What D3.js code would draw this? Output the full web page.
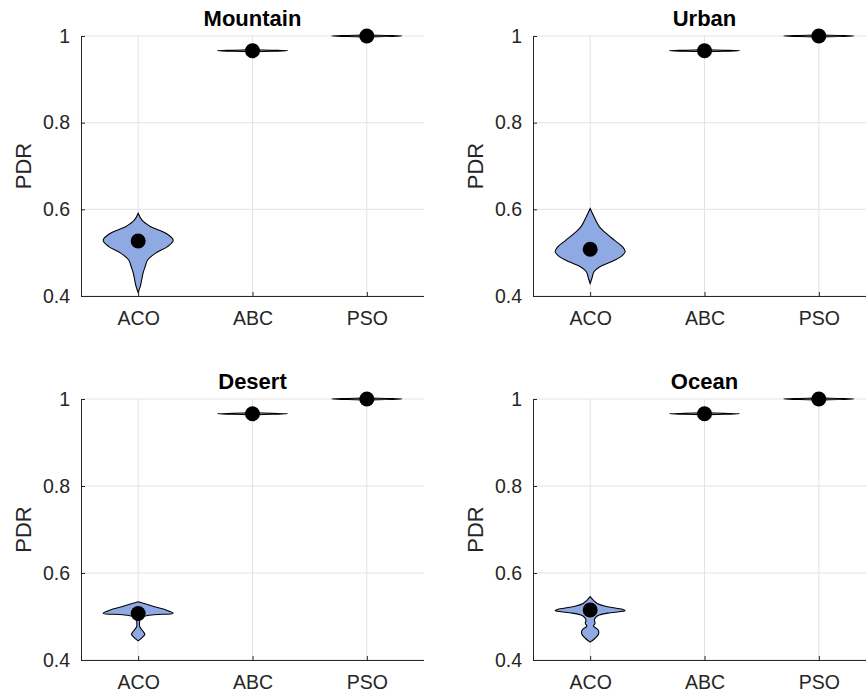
<!DOCTYPE html>
<html>
<head>
<meta charset="utf-8">
<script src="https://cdn.jsdelivr.net/npm/d3@7"></script>
<style>
  html, body { margin: 0; padding: 0; background: #ffffff; }
  svg { display: block; font-family: "Liberation Sans", Arial, Helvetica, sans-serif; }
</style>
</head>
<body>
<svg id="chart" width="866" height="695"></svg>
<script>
// ---------------- DATA ----------------
const panelTitles = ["Mountain", "Urban", "Desert", "Ocean"];
const algorithms = ["ACO", "ABC", "PSO"];
const yTickValues = [0.4, 0.6, 0.8, 1];
const yLabel = "PDR";

// median markers per panel, order: ACO, ABC, PSO
const mediansMountain = [0.527, 0.966, 1.0];
const mediansUrban    = [0.508, 0.966, 1.0];
const mediansDesert   = [0.507, 0.966, 1.0];
const mediansOcean    = [0.515, 0.966, 1.0];

// ACO violin outlines: [PDR value, relative half-width]
const acoMountain = [[0.591,0],[0.575,0.11],[0.56,0.36],[0.545,0.79],[0.529,1.0],[0.514,0.84],[0.499,0.5],
  [0.483,0.27],[0.468,0.2],[0.453,0.14],[0.437,0.1],[0.422,0.06],[0.408,0]];
const acoUrban = [[0.602,0],[0.583,0.11],[0.56,0.26],[0.545,0.45],[0.529,0.69],[0.514,0.92],[0.502,1.0],
  [0.491,0.88],[0.479,0.6],[0.468,0.29],[0.456,0.11],[0.441,0.05],[0.429,0]];
const acoDesert = [[0.534,0],[0.5225,0.47],[0.515,0.8],[0.5074,1.0],[0.504,0.45],[0.50,0.15],[0.495,0.05],
  [0.488,0.04],[0.478,0.04],[0.473,0.07],[0.466,0.14],[0.459,0.19],[0.452,0.12],[0.444,0]];
const acoOcean = [[0.5455,0],[0.530,0.2],[0.5225,0.5],[0.5166,0.92],[0.5133,1.0],[0.5087,0.58],[0.5034,0.26],
  [0.498,0.16],[0.492,0.12],[0.484,0.14],[0.478,0.095],[0.469,0.23],[0.4598,0.24],[0.450,0.14],[0.441,0]];
// ABC and PSO are nearly constant -> very thin violins
const abcProfile = [[0.9635,0],[0.9648,0.55],[0.966,1.0],[0.9672,0.55],[0.9685,0]];
const psoProfile = [[0.9975,0],[0.9988,0.55],[1.0,1.0],[1.0012,0.55],[1.0025,0]];

const panelMedians = [mediansMountain, mediansUrban, mediansDesert, mediansOcean];
const panelViolins = [
  [acoMountain, abcProfile, psoProfile],
  [acoUrban, abcProfile, psoProfile],
  [acoDesert, abcProfile, psoProfile],
  [acoOcean, abcProfile, psoProfile]
];

// ---------------- LAYOUT ----------------
const layout = [
  {left: 81,  top: 36,  width: 343, height: 260},
  {left: 533, top: 36,  width: 343, height: 260},
  {left: 81,  top: 399, width: 343, height: 261},
  {left: 533, top: 399, width: 343, height: 261}
];
const axisColor = "#262626";
const gridColor = "#e3e3e3";
const violinFill = "#8faae3";
const maxHalfWidth = 35;

const svg = d3.select("#chart");
svg.append("rect").attr("width", 866).attr("height", 695).attr("fill", "#fff");

panelTitles.forEach((title, i) => {
  const L = layout[i];
  const g = svg.append("g").attr("transform", `translate(${L.left},${L.top})`);

  const x = d3.scaleLinear().domain([0.5, 3.5]).range([0, L.width]);
  const y = d3.scaleLinear().domain([0.4, 1]).range([L.height, 0]);
  const w = d3.scaleLinear().domain([0, 1]).range([0, maxHalfWidth]);

  // grid
  g.selectAll(".hgrid").data(yTickValues).join("line")
    .attr("x1", 0).attr("x2", L.width)
    .attr("y1", d => y(d)).attr("y2", d => y(d))
    .attr("stroke", gridColor).attr("stroke-width", 1);
  g.selectAll(".vgrid").data(algorithms).join("line")
    .attr("x1", (d, k) => x(k + 1)).attr("x2", (d, k) => x(k + 1))
    .attr("y1", 0).attr("y2", L.height)
    .attr("stroke", gridColor).attr("stroke-width", 1);

  // violins
  const area = d3.area()
    .y(d => y(d[0]))
    .curve(d3.curveCatmullRom.alpha(0.5));
  panelViolins[i].forEach((prof, k) => {
    const cx = x(k + 1);
    g.append("path")
      .datum(prof)
      .attr("d", area.x0(d => cx - w(d[1])).x1(d => cx + w(d[1])))
      .attr("fill", violinFill)
      .attr("stroke", "#000")
      .attr("stroke-width", 1.1);
  });

  // medians
  g.selectAll(".med").data(panelMedians[i]).join("circle")
    .attr("cx", (d, k) => x(k + 1))
    .attr("cy", d => y(d))
    .attr("r", 7.5)
    .attr("fill", "#000");

  // y axis
  const yAxis = d3.axisLeft(y).tickValues(yTickValues).tickSize(-4).tickPadding(11)
    .tickFormat(d => d3.format("~g")(d));
  const ya = g.append("g").call(yAxis);
  // x axis
  const xAxis = d3.axisBottom(x).tickValues([1, 2, 3]).tickSize(-4).tickPadding(11)
    .tickFormat(d => algorithms[d - 1]);
  const xa = g.append("g").attr("transform", `translate(0,${L.height})`).call(xAxis);

  [ya, xa].forEach(a => {
    a.select(".domain").attr("stroke", axisColor).attr("d",
      a === ya ? `M0.5,0V${L.height}` : `M0,0.5H${L.width}`);
    a.selectAll(".tick line").attr("stroke", axisColor);
    a.selectAll(".tick text").attr("fill", axisColor).attr("font-size", 19.5)
      .attr("font-family", '"Liberation Sans", Arial, sans-serif');
  });
  xa.selectAll(".tick text").attr("dy", "0.9em");

  // y label
  g.append("text")
    .attr("transform", `translate(-50,${L.height / 2}) rotate(-90)`)
    .attr("text-anchor", "middle")
    .attr("font-size", 22)
    .attr("fill", axisColor)
    .text(yLabel);

  // title
  g.append("text")
    .attr("x", L.width * 0.5)
    .attr("y", -10)
    .attr("text-anchor", "middle")
    .attr("font-size", 22)
    .attr("font-weight", "bold")
    .attr("fill", "#000")
    .text(title);
});
</script>
</body>
</html>
